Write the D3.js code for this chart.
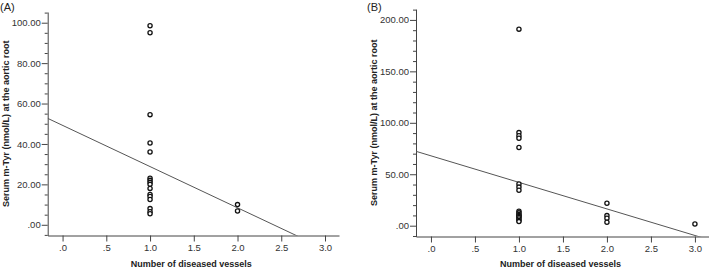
<!DOCTYPE html>
<html>
<head>
<meta charset="utf-8">
<script src="https://cdn.jsdelivr.net/npm/d3@7"></script>
<style>
  body { margin: 0; background: #fff; }
  svg { display: block; font-family: Arial, "Liberation Sans", sans-serif; }
</style>
</head>
<body>
<svg id="chart"></svg>
<script>
/// DATA ///
// panel A: number of diseased vessels vs serum m-Tyr
const vesselsA = [1, 1, 1, 1, 1, 1, 1, 1, 1, 1, 1, 1, 1, 1, 1, 1, 2, 2];
const mTyrA = [98.5, 95, 54.5, 40.5, 36, 23, 22, 21, 20, 18, 15, 14, 12.5, 8, 6.5, 5.5, 10, 6.8];
const fitA = [49.2, -20.4]; // intercept, slope

// panel B
const vesselsB = [1, 1, 1, 1, 1, 1, 1, 1, 1, 1, 1, 1, 1, 1, 1, 1, 1, 2, 2, 2, 2, 3];
const mTyrB = [191, 90.5, 87.5, 85, 76, 40.5, 37.5, 34.5, 14, 12.5, 11, 10, 9, 8, 6.5, 5, 4, 21.8, 9.8, 7.3, 3.3, 1.6];
const fitB = [67.9, -25.8];

const xTicks = [0, 0.5, 1, 1.5, 2, 2.5, 3];
const yTicksA = [0, 20, 40, 60, 80, 100];
const yTicksB = [0, 50, 100, 150, 200];

const W = 709, H = 269;

const svg = d3.select("#chart")
  .attr("width", W)
  .attr("height", H);

// SPSS style labels: ".00", ".0"
const fmtY = d => d === 0 ? ".00" : d3.format(".2f")(d);
const fmtX = d => d === 0 ? ".0" : (d < 1 ? ".5" : d3.format(".1f")(d));

function drawPanel(p) {
  const g = svg.append("g");

  const x = d3.scaleLinear()
    .domain([-0.17, 3.16])
    .range([p.left, p.right]);

  const y = d3.scaleLinear()
    .domain(p.yDomain)
    .range([p.bottom, p.top]);

  // clip for the fit line
  g.append("clipPath")
    .attr("id", "clip" + p.id)
    .append("rect")
    .attr("x", p.left)
    .attr("y", p.top)
    .attr("width", p.right - p.left)
    .attr("height", p.bottom - p.top);

  // minor ticks on y
  const minor = d3.range(Math.ceil(p.yDomain[0] / p.minorStep) * p.minorStep, p.yDomain[1], p.minorStep)
    .filter(v => !p.yTicks.includes(v));
  g.append("g")
    .attr("transform", `translate(${p.left},0)`)
    .call(d3.axisLeft(y).tickValues(minor).tickSize(3).tickFormat(""))
    .call(a => a.select(".domain").remove())
    .selectAll("line").attr("stroke", "#444");

  // y axis
  g.append("g")
    .attr("transform", `translate(${p.left},0)`)
    .call(d3.axisLeft(y).tickValues(p.yTicks).tickSize(6).tickSizeOuter(0).tickPadding(1).tickFormat(fmtY))
    .call(a => a.select(".domain").attr("stroke", "#444"))
    .call(a => a.selectAll("line").attr("stroke", "#444"))
    .selectAll("text")
    .style("font-size", "9.5px")
    .attr("fill", "#333");

  // x axis
  g.append("g")
    .attr("transform", `translate(0,${p.bottom})`)
    .call(d3.axisBottom(x).tickValues(xTicks).tickSize(6).tickSizeOuter(0).tickPadding(3).tickFormat(fmtX))
    .call(a => a.select(".domain").attr("stroke", "#444"))
    .call(a => a.selectAll("line").attr("stroke", "#444"))
    .selectAll("text")
    .style("font-size", "9.5px")
    .attr("fill", "#333");

  // fit line
  const xs = x.domain();
  g.append("line")
    .attr("clip-path", `url(#clip${p.id})`)
    .attr("x1", x(xs[0]))
    .attr("y1", y(p.fit[0] + p.fit[1] * xs[0]))
    .attr("x2", x(xs[1]))
    .attr("y2", y(p.fit[0] + p.fit[1] * xs[1]))
    .attr("stroke", "#555")
    .attr("stroke-width", 1);

  // points
  g.selectAll("circle")
    .data(p.xs.map((v, i) => ({ x: v, y: p.ys[i] })))
    .enter()
    .append("circle")
    .attr("cx", d => x(d.x))
    .attr("cy", d => y(d.y))
    .attr("r", 2.1)
    .attr("fill", "#fff")
    .attr("stroke", "#111")
    .attr("stroke-width", 1.3);

  // titles
  g.append("text")
    .attr("x", (p.left + p.right) / 2 - 2)
    .attr("y", 267)
    .attr("text-anchor", "middle")
    .style("font-size", "9px")
    .style("font-weight", "bold")
    .attr("fill", "#222")
    .text("Number of diseased vessels");

  g.append("text")
    .attr("transform", `translate(${p.left - 39},${(p.top + p.bottom) / 2}) rotate(-90)`)
    .attr("text-anchor", "middle")
    .style("font-size", "9px")
    .style("font-weight", "bold")
    .attr("fill", "#222")
    .text("Serum m-Tyr (nmol/L) at the aortic root");

  g.append("text")
    .attr("x", p.labelX)
    .attr("y", 11)
    .style("font-size", "11px")
    .attr("fill", "#222")
    .text(p.label);
}

drawPanel({
  id: "A", label: "(A)", labelX: 0,
  left: 47.7, right: 339, top: 12, bottom: 235.5,
  yDomain: [-5.3, 105.3], yTicks: yTicksA, minorStep: 5,
  xs: vesselsA, ys: mTyrA, fit: fitA
});

drawPanel({
  id: "B", label: "(B)", labelX: 367,
  left: 416, right: 709, top: 9, bottom: 236.5,
  yDomain: [-10.5, 210.6], yTicks: yTicksB, minorStep: 10,
  xs: vesselsB, ys: mTyrB, fit: fitB
});
</script>
</body>
</html>
